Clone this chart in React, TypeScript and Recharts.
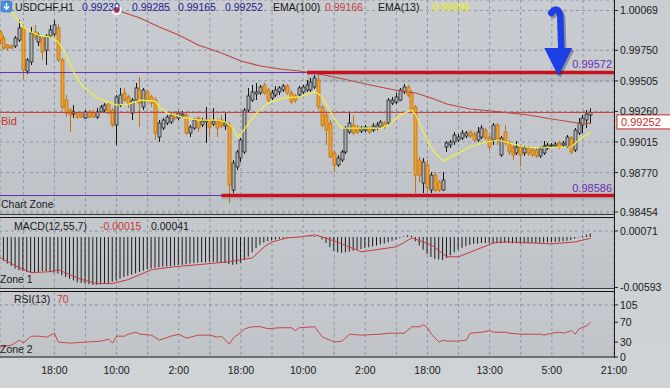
import React from "react"
import {
  Bar,
  CartesianGrid,
  ComposedChart,
  Line,
  ReferenceArea,
  ReferenceDot,
  ReferenceLine,
  XAxis,
  YAxis
} from "recharts"

// ---- USDCHF H1 candles (one per bar, oldest first) ----
const opens = [
  0.99897, 0.99848, 0.99792, 0.99784, 0.99784, 0.99832, 0.99929, 0.99584, 0.99656, 0.99897,
  0.99816, 0.99848, 0.99752, 0.99864, 0.9988, 0.99929, 0.99672, 0.99351, 0.99271, 0.99239,
  0.99247, 0.99239, 0.99207, 0.99255, 0.99247, 0.99215, 0.99255, 0.99271, 0.99319, 0.99271,
  0.99151, 0.99311, 0.99408, 0.99376, 0.99247, 0.99351, 0.99432, 0.99295, 0.99416, 0.99376,
  0.99351, 0.99055, 0.99127, 0.99167, 0.99175, 0.99231, 0.99207, 0.99223, 0.99231, 0.99087,
  0.99127, 0.99207, 0.99151, 0.99175, 0.99191, 0.99159, 0.99183, 0.99191, 0.99143, 0.99151,
  0.9863, 0.98815, 0.98887, 0.98935, 0.99271, 0.99351, 0.994, 0.99408, 0.99472, 0.99432,
  0.99368, 0.99392, 0.99416, 0.99432, 0.99464, 0.99408, 0.99384, 0.99392, 0.99416, 0.99432,
  0.99432, 0.99456, 0.99512, 0.99295, 0.99231, 0.99167, 0.98927, 0.98831, 0.98871, 0.98935,
  0.99095, 0.99151, 0.99135, 0.99103, 0.99111, 0.99127, 0.99111, 0.99127, 0.99135, 0.99167,
  0.99167, 0.99327, 0.99335, 0.99351, 0.99416, 0.99456, 0.99408, 0.99295, 0.98871, 0.98686,
  0.98831, 0.9863, 0.9875, 0.98694, 0.9863, 0.98975, 0.98991, 0.99015, 0.99031, 0.99047,
  0.99063, 0.99095, 0.99079, 0.99031, 0.99055, 0.99111, 0.99055, 0.99031, 0.99151, 0.98911,
  0.99095, 0.99007, 0.98975, 0.98927, 0.98975, 0.98927, 0.98967, 0.98951, 0.98951, 0.98903,
  0.98927, 0.98967, 0.98983, 0.98983, 0.99007, 0.98991, 0.98975, 0.99047, 0.98951, 0.99087,
  0.99151, 0.99191, 0.9923
]
const highs = [
  0.99913, 0.99872, 0.998, 0.998, 0.99864, 0.99993, 0.99937, 0.99688, 0.99937, 0.99953,
  0.99889, 0.99864, 0.9988, 0.99953, 0.99993, 0.99961, 0.99688, 0.99392, 0.99287, 0.99311,
  0.99255, 0.99255, 0.99271, 0.99271, 0.99271, 0.99287, 0.99311, 0.99327, 0.99335, 0.99287,
  0.99392, 0.99448, 0.99448, 0.99392, 0.99368, 0.99488, 0.99536, 0.99448, 0.99432, 0.99392,
  0.99376, 0.99191, 0.99207, 0.99231, 0.99247, 0.99255, 0.99263, 0.99263, 0.99247, 0.99151,
  0.99207, 0.99223, 0.99207, 0.99295, 0.99207, 0.99287, 0.99207, 0.99231, 0.99247, 0.99175,
  0.98871, 0.98951, 0.99047, 0.99287, 0.99448, 0.99472, 0.99488, 0.99472, 0.99488, 0.99448,
  0.99432, 0.99464, 0.99464, 0.9948, 0.9948, 0.99432, 0.994, 0.99464, 0.99472, 0.99512,
  0.99528, 0.99552, 0.99576, 0.99311, 0.99247, 0.99191, 0.98951, 0.98911, 0.98951, 0.99143,
  0.99247, 0.99231, 0.99151, 0.99143, 0.99151, 0.99143, 0.99167, 0.99175, 0.99191, 0.99183,
  0.99368, 0.99376, 0.99408, 0.99448, 0.9948, 0.99472, 0.99432, 0.99311, 0.98895, 0.98887,
  0.98871, 0.98774, 0.98774, 0.9871, 0.98774, 0.99023, 0.99031, 0.99095, 0.99079, 0.99111,
  0.99103, 0.99111, 0.99095, 0.99135, 0.99151, 0.99127, 0.99071, 0.99167, 0.99167, 0.99063,
  0.99151, 0.99031, 0.98991, 0.99023, 0.98991, 0.98983, 0.98983, 0.98967, 0.98967, 0.98975,
  0.99023, 0.99007, 0.99007, 0.99015, 0.99023, 0.99023, 0.99071, 0.99063, 0.99127, 0.99207,
  0.99231, 0.99271, 0.99285
]
const lows = [
  0.998, 0.99752, 0.99752, 0.9976, 0.99768, 0.99816, 0.9952, 0.9956, 0.99632, 0.99832,
  0.99784, 0.99672, 0.99632, 0.99848, 0.99864, 0.99656, 0.99271, 0.99215, 0.99095, 0.99207,
  0.99199, 0.99207, 0.99199, 0.99207, 0.99207, 0.99199, 0.99247, 0.99255, 0.99239, 0.99135,
  0.98991, 0.99295, 0.99335, 0.99287, 0.99191, 0.99335, 0.99135, 0.99271, 0.99335, 0.99295,
  0.99031, 0.99015, 0.99111, 0.99151, 0.99159, 0.99191, 0.99191, 0.99207, 0.99071, 0.99055,
  0.99111, 0.99095, 0.99135, 0.99007, 0.99055, 0.99143, 0.99055, 0.99127, 0.99111, 0.98526,
  0.98606, 0.9879, 0.98855, 0.98919, 0.99255, 0.99335, 0.99351, 0.99392, 0.99392, 0.99335,
  0.99351, 0.99376, 0.99392, 0.99416, 0.99392, 0.99319, 0.99327, 0.99376, 0.994, 0.99416,
  0.99416, 0.9944, 0.99271, 0.99135, 0.98991, 0.98887, 0.98774, 0.98815, 0.98855, 0.98919,
  0.99079, 0.99071, 0.99079, 0.99087, 0.99095, 0.99079, 0.99095, 0.99111, 0.99127, 0.99119,
  0.99151, 0.99311, 0.99319, 0.99343, 0.994, 0.99376, 0.99255, 0.98606, 0.98694, 0.98606,
  0.98614, 0.98606, 0.98614, 0.98614, 0.98622, 0.98935, 0.98967, 0.98991, 0.99015, 0.99031,
  0.99047, 0.99047, 0.99015, 0.99015, 0.99039, 0.99031, 0.98951, 0.98991, 0.98991, 0.98895,
  0.98983, 0.98911, 0.98871, 0.98911, 0.98815, 0.98903, 0.98903, 0.98895, 0.98887, 0.98887,
  0.98911, 0.98951, 0.98975, 0.98975, 0.98959, 0.98975, 0.98967, 0.98919, 0.98935, 0.99071,
  0.99087, 0.99127, 0.99165
]
const closes = [
  0.99832, 0.99768, 0.99768, 0.99768, 0.99848, 0.99929, 0.99592, 0.99672, 0.99889, 0.99856,
  0.99872, 0.99736, 0.99864, 0.99913, 0.99953, 0.99672, 0.99295, 0.99247, 0.99231, 0.99255,
  0.99215, 0.99215, 0.99255, 0.99215, 0.99215, 0.99255, 0.99295, 0.99311, 0.99247, 0.99151,
  0.99376, 0.99392, 0.99351, 0.99327, 0.99351, 0.99448, 0.99327, 0.99432, 0.99351, 0.99327,
  0.99087, 0.99167, 0.99191, 0.99215, 0.99231, 0.99207, 0.99247, 0.99239, 0.99087, 0.99135,
  0.99191, 0.99127, 0.99183, 0.99191, 0.99135, 0.99183, 0.99127, 0.99143, 0.99167, 0.9867,
  0.98847, 0.98935, 0.99031, 0.99271, 0.99384, 0.99416, 0.99416, 0.99456, 0.99408, 0.99351,
  0.99408, 0.99432, 0.99448, 0.99464, 0.99408, 0.99335, 0.99351, 0.99448, 0.99456, 0.99472,
  0.99496, 0.99528, 0.99295, 0.99151, 0.99111, 0.98895, 0.98831, 0.98887, 0.98935, 0.99127,
  0.99167, 0.99087, 0.99095, 0.99127, 0.99135, 0.99095, 0.99143, 0.99151, 0.99175, 0.99135,
  0.99351, 0.99351, 0.99376, 0.99432, 0.99456, 0.99392, 0.99271, 0.9875, 0.9875, 0.98855,
  0.98646, 0.9875, 0.9863, 0.9863, 0.9871, 0.99007, 0.99015, 0.99071, 0.99055, 0.99087,
  0.99087, 0.99063, 0.99031, 0.99095, 0.99127, 0.99047, 0.98975, 0.99151, 0.99031, 0.99047,
  0.99007, 0.98935, 0.98911, 0.98975, 0.98911, 0.98967, 0.98927, 0.98911, 0.98903, 0.98959,
  0.98983, 0.98991, 0.98991, 0.98999, 0.98975, 0.99007, 0.99055, 0.98935, 0.99111, 0.99167,
  0.99207, 0.99239, 0.99252
]

// ---- moving averages at these bars ----
const ema100Bars = [30, 36, 41, 46, 51, 57, 62, 67, 72, 77, 82, 86, 93, 99, 103, 107, 111, 115, 121, 129, 136, 142, 147, 150, 152]
const ema100Values = [
  1.00073, 1.00009, 0.99937, 0.99872, 0.99792, 0.99728, 0.99664, 0.99624, 0.996, 0.99584, 0.9956, 0.99536,
  0.99488, 0.99448, 0.99424, 0.99408, 0.99368, 0.99319, 0.99279, 0.99255, 0.99231, 0.99199, 0.99175, 0.99159, 0.99166
]
const ema13Bars = [
  2, 5, 6, 8, 10, 13, 15, 17, 19, 21, 25, 28, 30, 33, 36, 40, 41, 43, 47, 51, 56, 58, 60, 61, 62, 64, 66, 69, 73, 77,
  81, 82, 83, 84, 85, 86, 87, 88, 92, 98, 100, 103, 106, 107, 109, 111, 112, 114, 116, 118, 121, 124, 128, 130, 135,
  139, 144, 147, 149, 152
]
const ema13Values = [
  1.00097, 0.99977, 0.99937, 0.99897, 0.99872, 0.99856, 0.99816, 0.99712, 0.99576, 0.99472, 0.99368, 0.99335,
  0.99311, 0.99319, 0.99351, 0.99343, 0.99295, 0.99247, 0.99215, 0.99191, 0.99191, 0.99175, 0.99127, 0.99055,
  0.99079, 0.99167, 0.99247, 0.99327, 0.99368, 0.99376, 0.99416, 0.994, 0.99368, 0.99319, 0.99263, 0.99207,
  0.99159, 0.99127, 0.99127, 0.99127, 0.99151, 0.99231, 0.99271, 0.99231, 0.99087, 0.98967, 0.98927, 0.98863,
  0.98895, 0.98927, 0.98975, 0.99007, 0.99031, 0.99015, 0.98975, 0.98967, 0.98975, 0.98975, 0.99031, 0.99096
]

// ---- MACD(12,55,7) ----
const macdHist = [
  -0.0025, -0.0028, -0.0031,
  -0.0034, -0.0037, -0.0039, -0.004, -0.0041, -0.0042,
  -0.0042, -0.0041, -0.004, -0.004, -0.0041, -0.0042, -0.0043,
  -0.0045, -0.0047, -0.0049, -0.0051,
  -0.0053, -0.0054, -0.0055, -0.00555, -0.0056, -0.0056, -0.00555, -0.0055, -0.0054,
  -0.00525, -0.0051, -0.0049, -0.0047, -0.00455,
  -0.0044, -0.00425, -0.0041, -0.00395, -0.0038, -0.0037,
  -0.0036, -0.00355, -0.0035, -0.00345, -0.0034, -0.00335, -0.0033,
  -0.00325, -0.0032, -0.0031, -0.00305, -0.003, -0.00295, -0.00295,
  -0.0029, -0.0029, -0.00295, -0.003, -0.00305,
  -0.0032, -0.00325, -0.0032, -0.003,
  -0.0027, -0.0023, -0.0018, -0.0013,
  -0.0009, -0.00065, -0.0005, -0.0004,
  -0.0003, -0.0002, -0.00015, -0.0001, -0.00008,
  -0.00005, -0.00003, 0.00002, 0.00004, 0.00006, 0.00008,
  0.00002, -0.0003, -0.0007, -0.0012, -0.0016,
  -0.0018, -0.00185, -0.0018, -0.0017, -0.0016, -0.0015,
  -0.0014, -0.0013, -0.0012, -0.0011, -0.001, -0.00085,
  -0.00075, -0.0006, -0.00045, -0.0003,
  -0.0001, 0.0001, 0.0002, 0.00015,
  -0.0005, -0.001, -0.0015, -0.002,
  -0.00235, -0.00255, -0.00265, -0.0027,
  -0.00245, -0.00215, -0.0018, -0.0015,
  -0.00125, -0.00105, -0.0009, -0.0008,
  -0.00075, -0.0007, -0.0007, -0.0007, -0.00072, -0.0007, -0.00072, -0.0007,
  -0.0007, -0.00072, -0.00072, -0.00075, -0.00073, -0.00072, -0.0007, -0.0007, -0.00068, -0.00065,
  -0.00062, -0.0006, -0.00058, -0.00055, -0.0005, -0.00045,
  -0.00035, -0.0002, -0.00005, 0.00015, 0.0003, 0.00041
]
const macdSignalBars = [0, 5, 8, 13, 15, 18, 21, 25, 29, 33, 36, 39, 45, 51, 59, 62, 65, 68, 70, 74, 77, 81, 83, 86, 93, 102, 106, 111, 115, 118, 127, 130, 142, 148, 152]
const macdSignalValues = [
  -0.00244, -0.0036, -0.00419, -0.00407, -0.00384, -0.00442, -0.005, -0.00547, -0.00547, -0.005,
  -0.00442, -0.00384, -0.00349, -0.00325, -0.0029, -0.00267, -0.00244, -0.00115, -0.00057, -0.0001,
  0.00001, 0.00024, 0.00001, -0.00045, -0.00174, -0.00115, -0.0001, -0.00092, -0.00232, -0.00232,
  -0.00069, -0.00057, -0.0008, -0.00057, -0.00015
]

// ---- RSI(13) ----
const rsiBars = [
  0, 3, 5, 6, 8, 10, 12, 14, 15, 18, 22, 26, 28, 29, 30, 32, 33, 35, 36, 39, 41, 44, 46, 48, 50, 51, 54, 56, 57, 59,
  60, 62, 63, 65, 67, 69, 72, 75, 76, 77, 81, 82, 83, 85, 86, 88, 90, 93, 98, 100, 104, 106, 108, 109, 110, 111, 113,
  114, 115, 118, 120, 121, 124, 126, 127, 130, 131, 134, 136, 139, 140, 142, 144, 145, 147, 148, 149, 151, 152
]
const rsiValues = [
  20, 24, 34, 28, 42, 42, 40, 48, 30, 28, 30, 32, 36, 28, 42, 42, 46, 50, 46, 44,
  34, 42, 46, 38, 42, 44, 44, 40, 42, 26, 38, 50, 57, 61, 61, 57, 59, 59, 53, 59,
  61, 50, 40, 34, 30, 32, 46, 44, 46, 48, 48, 61, 61, 65, 59, 46, 30, 34, 32, 32,
  34, 48, 50, 53, 50, 50, 48, 46, 46, 46, 44, 48, 50, 48, 53, 46, 57, 63, 70
]

// ---- axes / levels ----
const slots = 158
const priceTicks = [1.00069, 0.9975, 0.99505, 0.9926, 0.99015, 0.9877, 0.98454]
const macdTicks = [0.00071, -0.00593]
const rsiTicks = [105, 70, 30, 0]
const gridBars = [6, 14, 22, 30, 38, 46, 54, 62, 70, 78, 86, 94, 102, 110, 118, 126, 134, 142, 150]
const timeTickBars = [14, 30, 46, 62, 78, 94, 110, 126, 142, 158]
const timeTickLabels = ["18:00", "10:00", "2:00", "18:00", "10:00", "2:00", "18:00", "13:00", "5:00", "21:00"]

const resistance = 0.99572
const support = 0.98586
const resistanceFrom = 79
const supportFrom = 57
const arrowBar = 143.4
const arrowPrice = 0.99544

const candles = opens.map((o, i) => ({ i, o, h: highs[i], l: lows[i], c: closes[i] }))
const ema100 = ema100Bars.map((i, k) => ({ i, v: ema100Values[k] }))
const ema13 = ema13Bars.map((i, k) => ({ i, v: ema13Values[k] }))
const macdRows = macdHist.map((m, i) => ({ i, m }))
const macdSignal = macdSignalBars.map((i, k) => ({ i, v: macdSignalValues[k] }))
const rsi = rsiBars.map((i, k) => ({ i, v: rsiValues[k] }))

const last = closes.length - 1
const bid = closes[last]

const W = 670
const AXIS_W = 56
const FONT = "'Liberation Sans', Arial, sans-serif"
const GRID = "#8c96a0"
const PURPLE = "#6a2fb0"
const LEVEL_RED = "#c8101e"
const INK = "#1a1a1a"

function AxisLabel(props: any) {
  const { x, y, payload, digits } = props
  return (
    <text x={x} y={y} dy={4} fontSize={10.5} fontFamily={FONT} fill={INK} textAnchor="start">
      {Number(payload.value).toFixed(digits)}
    </text>
  )
}

function TimeLabel(props: any) {
  const { x, y, payload } = props
  const k = timeTickBars.indexOf(payload.value)
  return (
    <text x={x} y={y + 17} fontSize={10.5} fontFamily={FONT} fill={INK} textAnchor="middle">
      {timeTickLabels[k]}
    </text>
  )
}

function CandleShape(props: any) {
  const { x, y, width, height, payload } = props
  if (!payload || x == null || y == null) return null
  const { o, h, l, c } = payload
  const cx = Math.round(x + width / 2) + 0.5
  const k = h > l ? height / (h - l) : 0
  const yo = y + (h - o) * k
  const yc = y + (h - c) * k
  const up = c >= o
  const top = Math.min(yo, yc)
  const bodyH = Math.max(Math.abs(yc - yo), 1)
  return (
    <g>
      <line x1={cx} x2={cx} y1={y} y2={y + height} stroke={up ? "#161616" : "#c07414"} strokeWidth={1} />
      <rect
        x={cx - 1.5}
        y={top}
        width={3}
        height={bodyH}
        fill={up ? "#adb1b6" : "#f3a226"}
        stroke={up ? "#161616" : "#b8690c"}
        strokeWidth={0.7}
      />
    </g>
  )
}

function LevelTag(props: any) {
  const { viewBox, text } = props
  if (!viewBox) return null
  return (
    <text x={viewBox.x + viewBox.width - 2} y={viewBox.y - 4} fontSize={11} fontFamily={FONT} fill={PURPLE} textAnchor="end">
      {text}
    </text>
  )
}

function BidTag(props: any) {
  const { viewBox } = props
  if (!viewBox) return null
  const right = viewBox.x + viewBox.width
  const y = viewBox.y
  return (
    <g fontFamily={FONT}>
      <text x={viewBox.x + 1} y={y + 13} fontSize={11} fill="#c83434">
        Bid
      </text>
      <rect x={right + 3} y={y + 2.5} width={54} height={14} fill="#ffffff" stroke="#d02a2a" />
      <text x={right + 7} y={y + 13.5} fontSize={11} fill="#d02a2a">
        {bid.toFixed(5)}
      </text>
    </g>
  )
}

function ArrowShape(props: any) {
  const { cx, cy } = props
  if (cx == null || cy == null) return null
  const head = `M${cx - 13},${cy - 28} L${cx + 15},${cy - 28} L${cx + 1},${cy} Z`
  const shaft = `M${cx - 6},${cy - 63} Q${cx + 1},${cy - 71} ${cx + 3},${cy - 60} L${cx + 4},${cy - 27}`
  return (
    <g>
      <path d={shaft} transform="translate(2,2)" stroke="rgba(30,30,50,0.35)" strokeWidth={6.5} fill="none" strokeLinecap="round" />
      <path d={head} transform="translate(2,2)" fill="rgba(30,30,50,0.35)" />
      <path d={shaft} stroke="#1d3fe6" strokeWidth={6.5} fill="none" strokeLinecap="round" />
      <path d={head} fill="#1d3fe6" />
    </g>
  )
}

function Hline({ top, color }: { top: number; color: string }) {
  return <div style={{ position: "absolute", left: 0, top, width: W - AXIS_W, height: 1, background: color }} />
}

export default function App() {
  const plotW = W - AXIS_W
  return (
    <div
      style={{
        position: "relative",
        width: W,
        height: 388,
        overflow: "hidden",
        background: "linear-gradient(#c9ccd0, #d0d3d6)",
        fontFamily: FONT
      }}
    >
      <style>{"body{margin:0}"}</style>
      {/* panel backgrounds */}
      <div style={{ position: "absolute", left: 0, top: 0, width: plotW, height: 214, background: "linear-gradient(#c9ccd0, #bfc3c8)" }} />
      <div style={{ position: "absolute", left: 0, top: 218, width: plotW, height: 70, background: "linear-gradient(#c5c8cc, #bfc3c8)" }} />
      <div style={{ position: "absolute", left: 0, top: 292, width: plotW, height: 65, background: "linear-gradient(#c6c9cd, #c0c4c8)" }} />

      {/* price panel */}
      <div style={{ position: "absolute", left: 0, top: 0 }}>
        <ComposedChart width={W} height={221} data={candles} margin={{ top: 0, right: 0, bottom: 7, left: 0 }}>
          <CartesianGrid stroke={GRID} strokeDasharray="3 3" />
          <XAxis type="number" dataKey="i" domain={[0, slots]} ticks={gridBars} hide allowDataOverflow />
          <YAxis
            orientation="right"
            width={AXIS_W}
            domain={[0.98438, 1.00153]}
            ticks={priceTicks}
            interval={0}
            allowDataOverflow
            axisLine={false}
            tickLine={{ stroke: "#222" }}
            tickSize={4}
            tickMargin={2}
            tick={(p: any) => <AxisLabel {...p} digits={5} />}
          />
          <ReferenceArea x1={resistanceFrom} x2={slots} y1={resistance - 0.0008} y2={resistance} fill="#5a6068" fillOpacity={0.12} stroke="none" />
          <ReferenceArea x1={supportFrom} x2={slots} y1={support - 0.0004} y2={support} fill="#5a6068" fillOpacity={0.12} stroke="none" />
          <ReferenceLine y={resistance} stroke={PURPLE} strokeWidth={1} label={<LevelTag text={resistance.toFixed(5)} />} />
          <ReferenceLine y={support} stroke={PURPLE} strokeWidth={1} label={<LevelTag text={support.toFixed(5)} />} />
          <ReferenceLine y={bid} stroke="#cc3a3a" strokeWidth={1} label={<BidTag />} />
          <Line data={ema100} dataKey="v" stroke="#bf4646" strokeWidth={1.1} dot={false} isAnimationActive={false} />
          <Bar dataKey={(d: any) => [d.l, d.h]} shape={CandleShape} barSize={3} isAnimationActive={false} />
          <Line data={ema13} dataKey="v" stroke="#f4f23a" strokeWidth={1.2} dot={false} isAnimationActive={false} />
          <ReferenceLine segment={[{ x: resistanceFrom, y: resistance }, { x: slots, y: resistance }]} stroke={LEVEL_RED} strokeWidth={3.5} />
          <ReferenceLine segment={[{ x: supportFrom, y: support }, { x: slots, y: support }]} stroke={LEVEL_RED} strokeWidth={3.5} />
          <ReferenceDot x={arrowBar} y={arrowPrice} r={1} shape={ArrowShape} />
        </ComposedChart>
      </div>

      {/* MACD panel */}
      <div style={{ position: "absolute", left: 0, top: 218 }}>
        <ComposedChart width={W} height={76} data={macdRows} margin={{ top: 1, right: 0, bottom: 6, left: 0 }}>
          <CartesianGrid stroke={GRID} strokeDasharray="3 3" horizontal={false} />
          <XAxis type="number" dataKey="i" domain={[0, slots]} ticks={gridBars} hide allowDataOverflow />
          <YAxis
            orientation="right"
            width={AXIS_W}
            domain={[-0.00599, 0.00212]}
            ticks={macdTicks}
            interval={0}
            allowDataOverflow
            axisLine={false}
            tickLine={{ stroke: "#222" }}
            tickSize={4}
            tickMargin={2}
            tick={(p: any) => <AxisLabel {...p} digits={5} />}
          />
          <ReferenceLine y={macdTicks[0]} stroke={GRID} strokeDasharray="3 3" />
          <Bar dataKey="m" fill="#1c1c1c" barSize={1} isAnimationActive={false} />
          <Line data={macdSignal} dataKey="v" stroke="#c83a3a" strokeWidth={1} dot={false} isAnimationActive={false} />
        </ComposedChart>
      </div>

      {/* RSI panel with time axis */}
      <div style={{ position: "absolute", left: 0, top: 291 }}>
        <ComposedChart width={W} height={97} margin={{ top: 1, right: 0, bottom: 0, left: 0 }}>
          <CartesianGrid stroke={GRID} strokeDasharray="3 3" horizontal={false} xAxisId="grid" />
          <XAxis xAxisId="grid" type="number" dataKey="i" domain={[0, slots]} ticks={gridBars} hide allowDataOverflow />
          <XAxis
            type="number"
            dataKey="i"
            domain={[0, slots]}
            ticks={timeTickBars}
            interval={0}
            allowDataOverflow
            height={31}
            axisLine={{ stroke: "#151515" }}
            tickLine={false}
            tickSize={0}
            tickMargin={0}
            tick={(p: any) => <TimeLabel {...p} />}
          />
          <YAxis
            orientation="right"
            width={AXIS_W}
            domain={[0, 131]}
            ticks={rsiTicks}
            interval={0}
            allowDataOverflow
            axisLine={false}
            tickLine={{ stroke: "#222" }}
            tickSize={4}
            tickMargin={2}
            tick={(p: any) => <AxisLabel {...p} digits={0} />}
          />
          <ReferenceLine y={rsiTicks[0]} stroke={GRID} strokeDasharray="3 3" />
          <Line data={rsi} dataKey="v" stroke="#c44848" strokeWidth={1} dot={false} isAnimationActive={false} />
        </ComposedChart>
      </div>

      {/* panel frames */}
      <Hline top={214} color="#3a3a3a" />
      <Hline top={217} color="#121212" />
      <Hline top={288} color="#3a3a3a" />
      <Hline top={291} color="#121212" />
      <div style={{ position: "absolute", left: plotW, top: 0, width: 1, height: 358, background: "#1a1a1a" }} />

      {/* indicator captions */}
      <svg width={W} height={388} style={{ position: "absolute", left: 0, top: 0, pointerEvents: "none" }} fontFamily={FONT} fontSize={10.5}>
        <rect x={1} y={1} width={11} height={11} rx={2} fill="#4a8ee0" stroke="#2d66b8" strokeWidth={0.6} />
        <path d="M6.5,3 V8.5 M4,6.5 L6.5,9.3 L9,6.5" stroke="#fff" strokeWidth={1.4} fill="none" />
        <text x={15} y={11} fill={INK}>USDCHF,H1</text>
        <text x={82} y={11} fill="#222290">{opens[last].toFixed(5)}</text>
        <text x={132} y={11} fill="#222290">{highs[last].toFixed(5)}</text>
        <text x={178} y={11} fill="#222290">{lows[last].toFixed(5)}</text>
        <text x={225} y={11} fill="#222290">{closes[last].toFixed(5)}</text>
        <text x={273} y={11} fill={INK}>EMA(100)</text>
        <text x={325} y={11} fill="#c04040">{ema100Values[ema100Values.length - 1].toFixed(5)}</text>
        <text x={378} y={11} fill={INK}>EMA(13)</text>
        <text x={432} y={11} fill="#eeee10">{ema13Values[ema13Values.length - 1].toFixed(5)}</text>
        <text x={1} y={208} fill={INK}>Chart Zone</text>
        <text x={14} y={230} fill={INK}>MACD(12,55,7)</text>
        <text x={100} y={230} fill="#c83a3a">{macdSignalValues[macdSignalValues.length - 1].toFixed(5)}</text>
        <text x={151} y={230} fill={INK}>{macdHist[macdHist.length - 1].toFixed(5)}</text>
        <text x={0} y={283} fill={INK}>Zone 1</text>
        <text x={14} y={303} fill={INK}>RSI(13)</text>
        <text x={57} y={303} fill="#c83a3a">{rsiValues[rsiValues.length - 1]}</text>
        <text x={0} y={353} fill={INK}>Zone 2</text>
      </svg>
    </div>
  )
}
